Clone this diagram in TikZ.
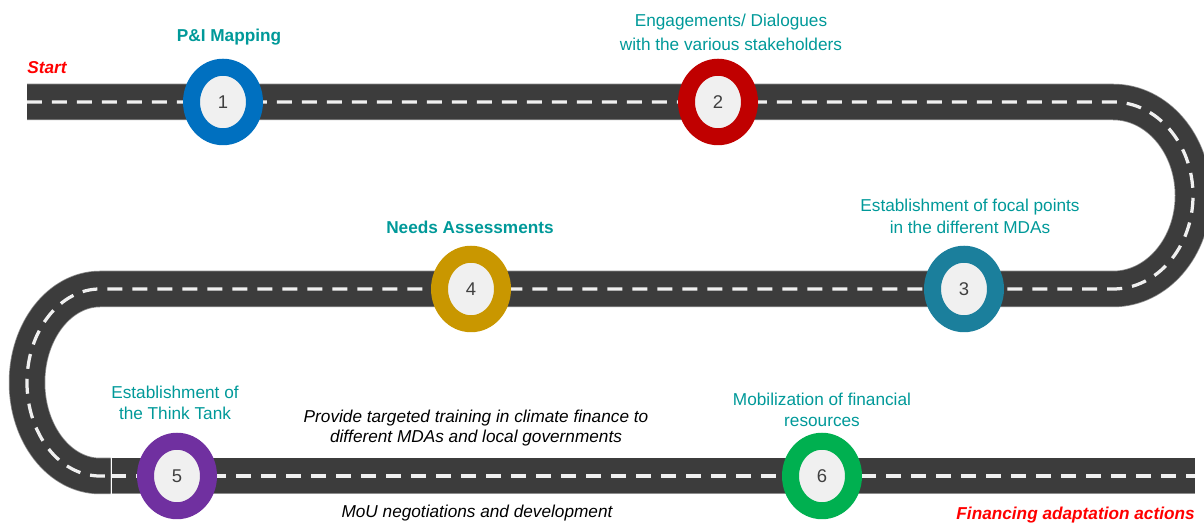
\documentclass[tikz,border=0pt]{standalone}
\usepackage{fontspec}
\setmainfont{Liberation Sans}
\usetikzlibrary{shapes.geometric}
\definecolor{roadgray}{HTML}{3C3C3C}
\definecolor{roadrim}{HTML}{8C8C8C}
\definecolor{lanewhite}{HTML}{F0F0F0}
\definecolor{labelteal}{HTML}{009999}
\definecolor{stepblue}{HTML}{0070C0}
\definecolor{stepred}{HTML}{C00000}
\definecolor{stepteal}{HTML}{1B7F9C}
\definecolor{stepgold}{HTML}{C99700}
\definecolor{steppurple}{HTML}{7030A0}
\definecolor{stepgreen}{HTML}{00B050}
\tikzset{
	roadbed/.style={
			draw=roadgray, line width=0.7cm,
			preaction={draw=roadrim, line width=0.73cm},
			postaction={draw=lanewhite, line width=0.065cm, dash pattern=on 0.3cm off 0.2cm}
		},
	milestone/.style={
			ellipse, draw=#1, line width=0.34cm, fill=lanewhite,
			minimum width=1.26cm, minimum height=1.39cm, inner sep=0pt,
			text=black!75, font=\fontsize{10.5}{12}\selectfont
		},
	steplabel/.style={text=labelteal, align=center, inner sep=0pt, font=\fontsize{9.8}{12}\selectfont},
	notelabel/.style={text=black, align=center, inner sep=0pt, font=\fontsize{9.8}{11.5}\selectfont\itshape},
	goallabel/.style={text=red, inner sep=0pt, font=\fontsize{9.8}{12}\selectfont\bfseries\itshape}
}

\begin{document}
\begin{tikzpicture}[x=0.02cm, y=0.02cm]
	\useasboundingbox (0,0) rectangle (1204,523);

	% Road: top lane, right turn, middle lane, left turn
	\draw[roadbed] (27,421) -- (1113,421)
		arc[start angle=90, end angle=-90, x radius=80, y radius=93.5]
		-- (100,234)
		arc[start angle=90, end angle=270, x radius=73, y radius=93.5]
		-- (110.5,47);
	% Road: bottom lane (joined with a thin seam)
	\draw[roadbed] (111.5,47) -- (1195,47);

	% Milestones
	\node[milestone=stepblue] (m1) at (223,421) {1};
	\node[milestone=stepred] (m2) at (718,421) {2};
	\node[milestone=stepteal] (m3) at (964,234) {3};
	\node[milestone=stepgold] (m4) at (471,234) {4};
	\node[milestone=steppurple] (m5) at (177,47) {5};
	\node[milestone=stepgreen] (m6) at (822,47) {6};

	% Milestone labels
	\node[steplabel, font=\fontsize{9.8}{12}\selectfont\bfseries] (l1) at (229,486) {P\&I Mapping};
	\node[steplabel, font=\fontsize{9.8}{13.5}\selectfont] (l2) at (731,491) {Engagements/ Dialogues\\with the various stakeholders};
	\node[steplabel, font=\fontsize{9.8}{12.5}\selectfont] (l3) at (970,307) {Establishment of focal points\\in the different MDAs};
	\node[steplabel, font=\fontsize{9.8}{12}\selectfont\bfseries] (l4) at (470,296) {Needs Assessments};
	\node[steplabel] (l5) at (175,120) {Establishment of\\the Think Tank};
	\node[steplabel] (l6) at (822,113) {Mobilization of financial\\resources};

	% Notes along the last stretch
	\node[notelabel] (train) at (476,95) {Provide targeted training in climate finance to\\different MDAs and local governments};
	\node[notelabel] (mou) at (477,10) {MoU negotiations and development};

	% Start and goal
	\node[goallabel, anchor=west] (start) at (27,455) {Start};
	\node[goallabel, anchor=east] (goal) at (1195,8) {Financing adaptation actions};
\end{tikzpicture}
\end{document}
